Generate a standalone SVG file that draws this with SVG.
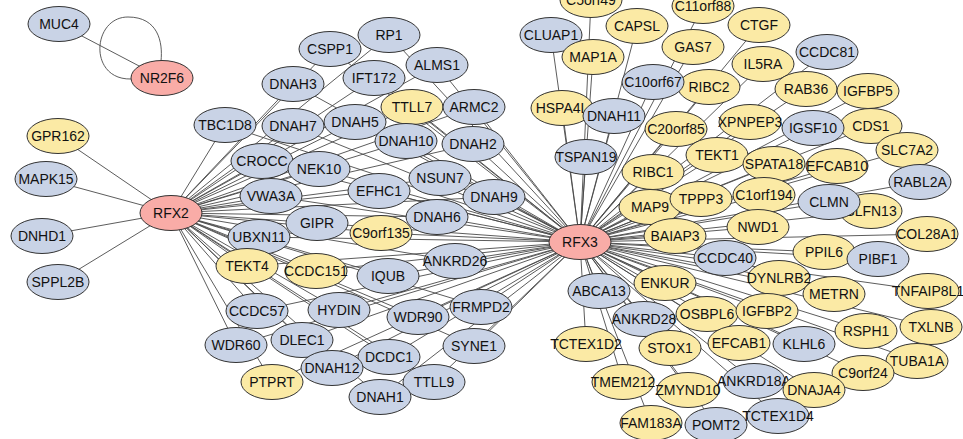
<svg xmlns="http://www.w3.org/2000/svg" width="963" height="439" viewBox="0 0 963 439">
<style>
.e line,.e path{stroke:#4a4a4a;stroke-width:0.9;fill:none}
ellipse{stroke:#333;stroke-width:1}
.b ellipse{fill:#c9d3e6}
.y ellipse{fill:#fbeaa5}
.r ellipse{fill:#f9aca7}
text{font-family:"Liberation Sans",Arial,Helvetica,sans-serif;font-size:14px;text-anchor:middle;fill:#111}
</style>
<rect width="963" height="439" fill="#fff"/>
<g id="edges" class="e">
<line x1="59" y1="24" x2="162" y2="78"/>
<path d="M131,79 C88,80 92,17 128,17 C158,17 163,42 161,61"/>
<!-- RFX2 -->
<line x1="171" y1="213" x2="58" y2="136"/>
<line x1="171" y1="213" x2="46" y2="179"/>
<line x1="171" y1="213" x2="42" y2="236"/>
<line x1="171" y1="213" x2="58" y2="282"/>
<line x1="171" y1="213" x2="225" y2="125"/>
<line x1="171" y1="213" x2="293" y2="84"/>
<line x1="171" y1="213" x2="330" y2="49"/>
<line x1="171" y1="213" x2="389" y2="35"/>
<line x1="171" y1="213" x2="437" y2="65"/>
<line x1="171" y1="213" x2="374" y2="78"/>
<line x1="171" y1="213" x2="293" y2="126"/>
<line x1="171" y1="213" x2="355" y2="122"/>
<line x1="171" y1="213" x2="412" y2="107"/>
<line x1="171" y1="213" x2="474" y2="107"/>
<line x1="171" y1="213" x2="406" y2="141"/>
<line x1="171" y1="213" x2="473" y2="144"/>
<line x1="171" y1="213" x2="262" y2="161"/>
<line x1="171" y1="213" x2="319" y2="169"/>
<line x1="171" y1="213" x2="440" y2="178"/>
<line x1="171" y1="213" x2="379" y2="191"/>
<line x1="171" y1="213" x2="271" y2="196"/>
<line x1="171" y1="213" x2="494" y2="197"/>
<line x1="171" y1="213" x2="437" y2="217"/>
<line x1="171" y1="213" x2="317" y2="223"/>
<line x1="171" y1="213" x2="381" y2="233"/>
<line x1="171" y1="213" x2="259" y2="237"/>
<line x1="171" y1="213" x2="247" y2="266"/>
<line x1="171" y1="213" x2="316" y2="271"/>
<line x1="171" y1="213" x2="388" y2="276"/>
<line x1="171" y1="213" x2="455" y2="261"/>
<line x1="171" y1="213" x2="257" y2="311"/>
<line x1="171" y1="213" x2="339" y2="310"/>
<line x1="171" y1="213" x2="418" y2="317"/>
<line x1="171" y1="213" x2="481" y2="307"/>
<line x1="171" y1="213" x2="236" y2="345"/>
<line x1="171" y1="213" x2="302" y2="340"/>
<line x1="171" y1="213" x2="474" y2="346"/>
<line x1="171" y1="213" x2="389" y2="357"/>
<line x1="171" y1="213" x2="332" y2="368"/>
<line x1="171" y1="213" x2="272" y2="382"/>
<line x1="171" y1="213" x2="434" y2="382"/>
<line x1="171" y1="213" x2="380" y2="397"/>
<!-- RFX3 to left cluster -->
<line x1="580" y1="242" x2="225" y2="125"/>
<line x1="580" y1="242" x2="293" y2="84"/>
<line x1="580" y1="242" x2="330" y2="49"/>
<line x1="580" y1="242" x2="389" y2="35"/>
<line x1="580" y1="242" x2="437" y2="65"/>
<line x1="580" y1="242" x2="374" y2="78"/>
<line x1="580" y1="242" x2="293" y2="126"/>
<line x1="580" y1="242" x2="355" y2="122"/>
<line x1="580" y1="242" x2="412" y2="107"/>
<line x1="580" y1="242" x2="474" y2="107"/>
<line x1="580" y1="242" x2="406" y2="141"/>
<line x1="580" y1="242" x2="473" y2="144"/>
<line x1="580" y1="242" x2="262" y2="161"/>
<line x1="580" y1="242" x2="319" y2="169"/>
<line x1="580" y1="242" x2="440" y2="178"/>
<line x1="580" y1="242" x2="379" y2="191"/>
<line x1="580" y1="242" x2="271" y2="196"/>
<line x1="580" y1="242" x2="494" y2="197"/>
<line x1="580" y1="242" x2="437" y2="217"/>
<line x1="580" y1="242" x2="317" y2="223"/>
<line x1="580" y1="242" x2="381" y2="233"/>
<line x1="580" y1="242" x2="259" y2="237"/>
<line x1="580" y1="242" x2="247" y2="266"/>
<line x1="580" y1="242" x2="316" y2="271"/>
<line x1="580" y1="242" x2="388" y2="276"/>
<line x1="580" y1="242" x2="455" y2="261"/>
<line x1="580" y1="242" x2="257" y2="311"/>
<line x1="580" y1="242" x2="339" y2="310"/>
<line x1="580" y1="242" x2="418" y2="317"/>
<line x1="580" y1="242" x2="481" y2="307"/>
<line x1="580" y1="242" x2="236" y2="345"/>
<line x1="580" y1="242" x2="302" y2="340"/>
<line x1="580" y1="242" x2="474" y2="346"/>
<line x1="580" y1="242" x2="389" y2="357"/>
<line x1="580" y1="242" x2="332" y2="368"/>
<line x1="580" y1="242" x2="272" y2="382"/>
<line x1="580" y1="242" x2="434" y2="382"/>
<line x1="580" y1="242" x2="380" y2="397"/>
<!-- RFX3 to right cluster -->
<line x1="580" y1="242" x2="591" y2="0"/>
<line x1="580" y1="242" x2="703" y2="6"/>
<line x1="580" y1="242" x2="637" y2="26"/>
<line x1="580" y1="242" x2="551" y2="35"/>
<line x1="580" y1="242" x2="593" y2="57"/>
<line x1="580" y1="242" x2="693" y2="47"/>
<line x1="580" y1="242" x2="759" y2="25"/>
<line x1="580" y1="242" x2="827" y2="52"/>
<line x1="580" y1="242" x2="763" y2="64"/>
<line x1="580" y1="242" x2="653" y2="82"/>
<line x1="580" y1="242" x2="709" y2="87"/>
<line x1="580" y1="242" x2="806" y2="89"/>
<line x1="580" y1="242" x2="868" y2="91"/>
<line x1="580" y1="242" x2="562" y2="108"/>
<line x1="580" y1="242" x2="614" y2="116"/>
<line x1="580" y1="242" x2="750" y2="122"/>
<line x1="580" y1="242" x2="813" y2="128"/>
<line x1="580" y1="242" x2="871" y2="126"/>
<line x1="580" y1="242" x2="676" y2="129"/>
<line x1="580" y1="242" x2="586" y2="157"/>
<line x1="580" y1="242" x2="717" y2="155"/>
<line x1="580" y1="242" x2="907" y2="150"/>
<line x1="580" y1="242" x2="774" y2="164"/>
<line x1="580" y1="242" x2="837" y2="166"/>
<line x1="580" y1="242" x2="653" y2="172"/>
<line x1="580" y1="242" x2="920" y2="182"/>
<line x1="580" y1="242" x2="650" y2="207"/>
<line x1="580" y1="242" x2="701" y2="199"/>
<line x1="580" y1="242" x2="764" y2="195"/>
<line x1="580" y1="242" x2="829" y2="202"/>
<line x1="580" y1="242" x2="871" y2="211"/>
<line x1="580" y1="242" x2="675" y2="236"/>
<line x1="580" y1="242" x2="758" y2="227"/>
<line x1="580" y1="242" x2="927" y2="234"/>
<line x1="580" y1="242" x2="725" y2="258"/>
<line x1="580" y1="242" x2="824" y2="252"/>
<line x1="580" y1="242" x2="878" y2="259"/>
<line x1="580" y1="242" x2="779" y2="278"/>
<line x1="580" y1="242" x2="665" y2="283"/>
<line x1="580" y1="242" x2="599" y2="291"/>
<line x1="580" y1="242" x2="834" y2="294"/>
<line x1="580" y1="242" x2="928" y2="291"/>
<line x1="580" y1="242" x2="707" y2="314"/>
<line x1="580" y1="242" x2="767" y2="311"/>
<line x1="580" y1="242" x2="644" y2="319"/>
<line x1="580" y1="242" x2="931" y2="327"/>
<line x1="580" y1="242" x2="866" y2="331"/>
<line x1="580" y1="242" x2="586" y2="344"/>
<line x1="580" y1="242" x2="670" y2="348"/>
<line x1="580" y1="242" x2="739" y2="343"/>
<line x1="580" y1="242" x2="804" y2="344"/>
<line x1="580" y1="242" x2="917" y2="361"/>
<line x1="580" y1="242" x2="863" y2="373"/>
<line x1="580" y1="242" x2="623" y2="382"/>
<line x1="580" y1="242" x2="688" y2="390"/>
<line x1="580" y1="242" x2="754" y2="381"/>
<line x1="580" y1="242" x2="814" y2="390"/>
<line x1="580" y1="242" x2="651" y2="423"/>
<line x1="580" y1="242" x2="716" y2="425"/>
<line x1="580" y1="242" x2="778" y2="416"/>
</g>
<g id="MUC4" class="b"><ellipse cx="59" cy="24" rx="31" ry="17.5"/><text x="59" y="29">MUC4</text></g>
<g id="NR2F6" class="r"><ellipse cx="162" cy="78" rx="31" ry="17.5"/><text x="162" y="83">NR2F6</text></g>
<g id="GPR162" class="y"><ellipse cx="58" cy="136" rx="31" ry="17.5"/><text x="58" y="141">GPR162</text></g>
<g id="MAPK15" class="b"><ellipse cx="46" cy="179" rx="31" ry="17.5"/><text x="46" y="184">MAPK15</text></g>
<g id="DNHD1" class="b"><ellipse cx="42" cy="236" rx="31" ry="17.5"/><text x="42" y="241">DNHD1</text></g>
<g id="SPPL2B" class="b"><ellipse cx="58" cy="282" rx="31" ry="17.5"/><text x="58" y="287">SPPL2B</text></g>
<g id="RFX2" class="r"><ellipse cx="171" cy="213" rx="31" ry="17.5"/><text x="171" y="218">RFX2</text></g>
<g id="TBC1D8" class="b"><ellipse cx="225" cy="125" rx="31" ry="17.5"/><text x="225" y="130">TBC1D8</text></g>
<g id="RP1" class="b"><ellipse cx="389" cy="35" rx="31" ry="17.5"/><text x="389" y="40">RP1</text></g>
<g id="CSPP1" class="b"><ellipse cx="330" cy="49" rx="31" ry="17.5"/><text x="330" y="54">CSPP1</text></g>
<g id="ALMS1" class="b"><ellipse cx="437" cy="65" rx="31" ry="17.5"/><text x="437" y="70">ALMS1</text></g>
<g id="IFT172" class="b"><ellipse cx="374" cy="78" rx="31" ry="17.5"/><text x="374" y="83">IFT172</text></g>
<g id="DNAH3" class="b"><ellipse cx="293" cy="84" rx="31" ry="17.5"/><text x="293" y="89">DNAH3</text></g>
<g id="TTLL7" class="y"><ellipse cx="412" cy="107" rx="31" ry="17.5"/><text x="412" y="112">TTLL7</text></g>
<g id="ARMC2" class="b"><ellipse cx="474" cy="107" rx="31" ry="17.5"/><text x="474" y="112">ARMC2</text></g>
<g id="DNAH7" class="b"><ellipse cx="293" cy="126" rx="31" ry="17.5"/><text x="293" y="131">DNAH7</text></g>
<g id="DNAH5" class="b"><ellipse cx="355" cy="122" rx="31" ry="17.5"/><text x="355" y="127">DNAH5</text></g>
<g id="DNAH10" class="b"><ellipse cx="406" cy="141" rx="31" ry="17.5"/><text x="406" y="146">DNAH10</text></g>
<g id="DNAH2" class="b"><ellipse cx="473" cy="144" rx="31" ry="17.5"/><text x="473" y="149">DNAH2</text></g>
<g id="CROCC" class="b"><ellipse cx="262" cy="161" rx="31" ry="17.5"/><text x="262" y="166">CROCC</text></g>
<g id="NEK10" class="b"><ellipse cx="319" cy="169" rx="31" ry="17.5"/><text x="319" y="174">NEK10</text></g>
<g id="NSUN7" class="b"><ellipse cx="440" cy="178" rx="31" ry="17.5"/><text x="440" y="183">NSUN7</text></g>
<g id="EFHC1" class="b"><ellipse cx="379" cy="191" rx="31" ry="17.5"/><text x="379" y="196">EFHC1</text></g>
<g id="VWA3A" class="b"><ellipse cx="271" cy="196" rx="31" ry="17.5"/><text x="271" y="201">VWA3A</text></g>
<g id="DNAH9" class="b"><ellipse cx="494" cy="197" rx="31" ry="17.5"/><text x="494" y="202">DNAH9</text></g>
<g id="DNAH6" class="b"><ellipse cx="437" cy="217" rx="31" ry="17.5"/><text x="437" y="222">DNAH6</text></g>
<g id="GIPR" class="b"><ellipse cx="317" cy="223" rx="31" ry="17.5"/><text x="317" y="228">GIPR</text></g>
<g id="C9orf135" class="y"><ellipse cx="381" cy="233" rx="31" ry="17.5"/><text x="381" y="238">C9orf135</text></g>
<g id="UBXN11" class="b"><ellipse cx="259" cy="237" rx="31" ry="17.5"/><text x="259" y="242">UBXN11</text></g>
<g id="ANKRD26" class="b"><ellipse cx="455" cy="261" rx="31" ry="17.5"/><text x="455" y="266">ANKRD26</text></g>
<g id="TEKT4" class="y"><ellipse cx="247" cy="266" rx="31" ry="17.5"/><text x="247" y="271">TEKT4</text></g>
<g id="CCDC151" class="y"><ellipse cx="316" cy="271" rx="31" ry="17.5"/><text x="316" y="276">CCDC151</text></g>
<g id="IQUB" class="b"><ellipse cx="388" cy="276" rx="31" ry="17.5"/><text x="388" y="281">IQUB</text></g>
<g id="FRMPD2" class="b"><ellipse cx="481" cy="307" rx="31" ry="17.5"/><text x="481" y="312">FRMPD2</text></g>
<g id="CCDC57" class="b"><ellipse cx="257" cy="311" rx="31" ry="17.5"/><text x="257" y="316">CCDC57</text></g>
<g id="HYDIN" class="b"><ellipse cx="339" cy="310" rx="31" ry="17.5"/><text x="339" y="315">HYDIN</text></g>
<g id="WDR90" class="b"><ellipse cx="418" cy="317" rx="31" ry="17.5"/><text x="418" y="322">WDR90</text></g>
<g id="WDR60" class="b"><ellipse cx="236" cy="345" rx="31" ry="17.5"/><text x="236" y="350">WDR60</text></g>
<g id="DLEC1" class="b"><ellipse cx="302" cy="340" rx="31" ry="17.5"/><text x="302" y="345">DLEC1</text></g>
<g id="SYNE1" class="b"><ellipse cx="474" cy="346" rx="31" ry="17.5"/><text x="474" y="351">SYNE1</text></g>
<g id="DCDC1" class="b"><ellipse cx="389" cy="357" rx="31" ry="17.5"/><text x="389" y="362">DCDC1</text></g>
<g id="DNAH12" class="b"><ellipse cx="332" cy="368" rx="31" ry="17.5"/><text x="332" y="373">DNAH12</text></g>
<g id="PTPRT" class="y"><ellipse cx="272" cy="382" rx="31" ry="17.5"/><text x="272" y="387">PTPRT</text></g>
<g id="TTLL9" class="b"><ellipse cx="434" cy="382" rx="31" ry="17.5"/><text x="434" y="387">TTLL9</text></g>
<g id="DNAH1" class="b"><ellipse cx="380" cy="397" rx="31" ry="17.5"/><text x="380" y="402">DNAH1</text></g>
<g id="RFX3" class="r"><ellipse cx="580" cy="242" rx="31" ry="17.5"/><text x="580" y="247">RFX3</text></g>
<g id="C5orf49" class="y"><ellipse cx="591" cy="0" rx="31" ry="17.5"/><text x="591" y="5">C5orf49</text></g>
<g id="C11orf88" class="y"><ellipse cx="703" cy="6" rx="31" ry="17.5"/><text x="703" y="11">C11orf88</text></g>
<g id="CTGF" class="y"><ellipse cx="759" cy="25" rx="31" ry="17.5"/><text x="759" y="30">CTGF</text></g>
<g id="CLUAP1" class="b"><ellipse cx="551" cy="35" rx="31" ry="17.5"/><text x="551" y="40">CLUAP1</text></g>
<g id="CAPSL" class="y"><ellipse cx="637" cy="26" rx="31" ry="17.5"/><text x="637" y="31">CAPSL</text></g>
<g id="MAP1A" class="y"><ellipse cx="593" cy="57" rx="31" ry="17.5"/><text x="593" y="62">MAP1A</text></g>
<g id="GAS7" class="y"><ellipse cx="693" cy="47" rx="31" ry="17.5"/><text x="693" y="52">GAS7</text></g>
<g id="CCDC81" class="b"><ellipse cx="827" cy="52" rx="31" ry="17.5"/><text x="827" y="57">CCDC81</text></g>
<g id="IL5RA" class="y"><ellipse cx="763" cy="64" rx="31" ry="17.5"/><text x="763" y="69">IL5RA</text></g>
<g id="RIBC2" class="y"><ellipse cx="709" cy="87" rx="31" ry="17.5"/><text x="709" y="92">RIBC2</text></g>
<g id="C10orf67" class="b"><ellipse cx="653" cy="82" rx="31" ry="17.5"/><text x="653" y="87">C10orf67</text></g>
<g id="RAB36" class="y"><ellipse cx="806" cy="89" rx="31" ry="17.5"/><text x="806" y="94">RAB36</text></g>
<g id="IGFBP5" class="y"><ellipse cx="868" cy="91" rx="31" ry="17.5"/><text x="868" y="96">IGFBP5</text></g>
<g id="HSPA4L" class="y"><ellipse cx="562" cy="108" rx="31" ry="17.5"/><text x="562" y="113">HSPA4L</text></g>
<g id="DNAH11" class="b"><ellipse cx="614" cy="116" rx="31" ry="17.5"/><text x="614" y="121">DNAH11</text></g>
<g id="XPNPEP3" class="y"><ellipse cx="750" cy="122" rx="31" ry="17.5"/><text x="750" y="127">XPNPEP3</text></g>
<g id="CDS1" class="y"><ellipse cx="871" cy="126" rx="31" ry="17.5"/><text x="871" y="131">CDS1</text></g>
<g id="IGSF10" class="b"><ellipse cx="813" cy="128" rx="31" ry="17.5"/><text x="813" y="133">IGSF10</text></g>
<g id="C20orf85" class="y"><ellipse cx="676" cy="129" rx="31" ry="17.5"/><text x="676" y="134">C20orf85</text></g>
<g id="TSPAN19" class="b"><ellipse cx="586" cy="157" rx="31" ry="17.5"/><text x="586" y="162">TSPAN19</text></g>
<g id="SLC7A2" class="y"><ellipse cx="907" cy="150" rx="31" ry="17.5"/><text x="907" y="155">SLC7A2</text></g>
<g id="TEKT1" class="y"><ellipse cx="717" cy="155" rx="31" ry="17.5"/><text x="717" y="160">TEKT1</text></g>
<g id="EFCAB10" class="y"><ellipse cx="837" cy="166" rx="31" ry="17.5"/><text x="837" y="171">EFCAB10</text></g>
<g id="SPATA18" class="y"><ellipse cx="774" cy="164" rx="31" ry="17.5"/><text x="774" y="169">SPATA18</text></g>
<g id="RIBC1" class="y"><ellipse cx="653" cy="172" rx="31" ry="17.5"/><text x="653" y="177">RIBC1</text></g>
<g id="RABL2A" class="b"><ellipse cx="920" cy="182" rx="31" ry="17.5"/><text x="920" y="187">RABL2A</text></g>
<g id="MAP9" class="y"><ellipse cx="650" cy="207" rx="31" ry="17.5"/><text x="650" y="212">MAP9</text></g>
<g id="TPPP3" class="y"><ellipse cx="701" cy="199" rx="31" ry="17.5"/><text x="701" y="204">TPPP3</text></g>
<g id="C1orf194" class="y"><ellipse cx="764" cy="195" rx="31" ry="17.5"/><text x="764" y="200">C1orf194</text></g>
<g id="SLFN13" class="y"><ellipse cx="871" cy="211" rx="31" ry="17.5"/><text x="871" y="216">SLFN13</text></g>
<g id="CLMN" class="b"><ellipse cx="829" cy="202" rx="31" ry="17.5"/><text x="829" y="207">CLMN</text></g>
<g id="NWD1" class="y"><ellipse cx="758" cy="227" rx="31" ry="17.5"/><text x="758" y="232">NWD1</text></g>
<g id="BAIAP3" class="y"><ellipse cx="675" cy="236" rx="31" ry="17.5"/><text x="675" y="241">BAIAP3</text></g>
<g id="COL28A1" class="y"><ellipse cx="927" cy="234" rx="31" ry="17.5"/><text x="927" y="239">COL28A1</text></g>
<g id="PPIL6" class="y"><ellipse cx="824" cy="252" rx="31" ry="17.5"/><text x="824" y="257">PPIL6</text></g>
<g id="PIBF1" class="b"><ellipse cx="878" cy="259" rx="31" ry="17.5"/><text x="878" y="264">PIBF1</text></g>
<g id="CCDC40" class="b"><ellipse cx="725" cy="258" rx="31" ry="17.5"/><text x="725" y="263">CCDC40</text></g>
<g id="DYNLRB2" class="y"><ellipse cx="779" cy="278" rx="31" ry="17.5"/><text x="779" y="283">DYNLRB2</text></g>
<g id="ENKUR" class="y"><ellipse cx="665" cy="283" rx="31" ry="17.5"/><text x="665" y="288">ENKUR</text></g>
<g id="ABCA13" class="b"><ellipse cx="599" cy="291" rx="31" ry="17.5"/><text x="599" y="296">ABCA13</text></g>
<g id="METRN" class="y"><ellipse cx="834" cy="294" rx="31" ry="17.5"/><text x="834" y="299">METRN</text></g>
<g id="TNFAIP8L1" class="y"><ellipse cx="928" cy="291" rx="31" ry="17.5"/><text x="928" y="296">TNFAIP8L1</text></g>
<g id="ANKRD28" class="b"><ellipse cx="644" cy="319" rx="31" ry="17.5"/><text x="644" y="324">ANKRD28</text></g>
<g id="OSBPL6" class="y"><ellipse cx="707" cy="314" rx="31" ry="17.5"/><text x="707" y="319">OSBPL6</text></g>
<g id="IGFBP2" class="y"><ellipse cx="767" cy="311" rx="31" ry="17.5"/><text x="767" y="316">IGFBP2</text></g>
<g id="TXLNB" class="y"><ellipse cx="931" cy="327" rx="31" ry="17.5"/><text x="931" y="332">TXLNB</text></g>
<g id="RSPH1" class="y"><ellipse cx="866" cy="331" rx="31" ry="17.5"/><text x="866" y="336">RSPH1</text></g>
<g id="TCTEX1D2" class="y"><ellipse cx="586" cy="344" rx="31" ry="17.5"/><text x="586" y="349">TCTEX1D2</text></g>
<g id="STOX1" class="y"><ellipse cx="670" cy="348" rx="31" ry="17.5"/><text x="670" y="353">STOX1</text></g>
<g id="EFCAB1" class="y"><ellipse cx="739" cy="343" rx="31" ry="17.5"/><text x="739" y="348">EFCAB1</text></g>
<g id="KLHL6" class="b"><ellipse cx="804" cy="344" rx="31" ry="17.5"/><text x="804" y="349">KLHL6</text></g>
<g id="TUBA1A" class="y"><ellipse cx="917" cy="361" rx="31" ry="17.5"/><text x="917" y="366">TUBA1A</text></g>
<g id="C9orf24" class="y"><ellipse cx="863" cy="373" rx="31" ry="17.5"/><text x="863" y="378">C9orf24</text></g>
<g id="TMEM212" class="y"><ellipse cx="623" cy="382" rx="31" ry="17.5"/><text x="623" y="387">TMEM212</text></g>
<g id="ZMYND10" class="y"><ellipse cx="688" cy="390" rx="31" ry="17.5"/><text x="688" y="395">ZMYND10</text></g>
<g id="ANKRD18A" class="b"><ellipse cx="754" cy="381" rx="31" ry="17.5"/><text x="754" y="386">ANKRD18A</text></g>
<g id="DNAJA4" class="y"><ellipse cx="814" cy="390" rx="31" ry="17.5"/><text x="814" y="395">DNAJA4</text></g>
<g id="FAM183A" class="y"><ellipse cx="651" cy="423" rx="31" ry="17.5"/><text x="651" y="428">FAM183A</text></g>
<g id="POMT2" class="b"><ellipse cx="716" cy="425" rx="31" ry="17.5"/><text x="716" y="430">POMT2</text></g>
<g id="TCTEX1D4" class="b"><ellipse cx="778" cy="416" rx="31" ry="17.5"/><text x="778" y="421">TCTEX1D4</text></g>
</svg>
